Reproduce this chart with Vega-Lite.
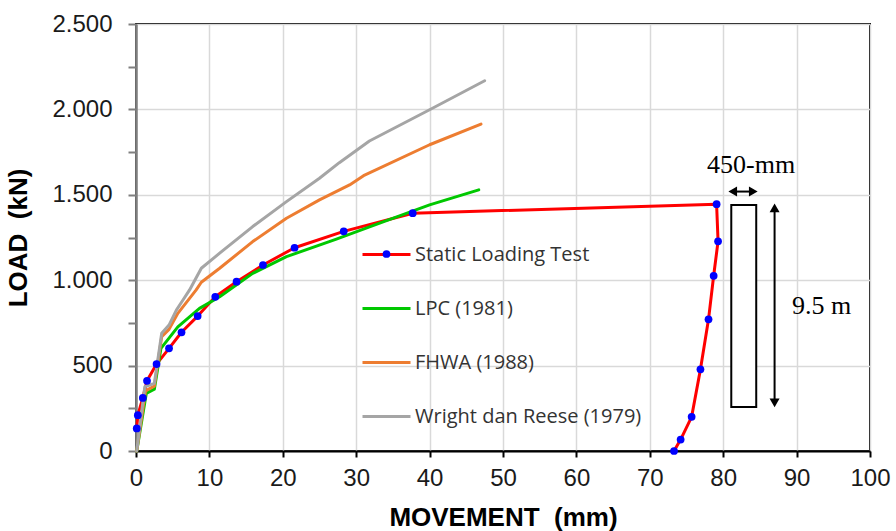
{
  "$schema": "https://vega.github.io/schema/vega-lite/v6.json",
  "width": 734,
  "height": 427,
  "autosize": {"type": "none"},
  "padding": {"left": 136, "top": 24, "right": 26, "bottom": 80},
  "background": "white",
  "config": {
    "view": {"stroke": "#000000", "strokeWidth": 2},
    "font": "Liberation Sans"
  },
  "datasets": {
    "curves": [
      {"series": "Static Loading Test", "movement": 0.1, "load": 132},
      {"series": "Static Loading Test", "movement": 0.25, "load": 210},
      {"series": "Static Loading Test", "movement": 0.93, "load": 311},
      {"series": "Static Loading Test", "movement": 1.5, "load": 411},
      {"series": "Static Loading Test", "movement": 2.8, "load": 509},
      {"series": "Static Loading Test", "movement": 4.5, "load": 601},
      {"series": "Static Loading Test", "movement": 6.2, "load": 695},
      {"series": "Static Loading Test", "movement": 8.4, "load": 790},
      {"series": "Static Loading Test", "movement": 10.8, "load": 903},
      {"series": "Static Loading Test", "movement": 13.7, "load": 991},
      {"series": "Static Loading Test", "movement": 17.3, "load": 1089},
      {"series": "Static Loading Test", "movement": 21.6, "load": 1190},
      {"series": "Static Loading Test", "movement": 28.3, "load": 1286},
      {"series": "Static Loading Test", "movement": 37.7, "load": 1392},
      {"series": "Static Loading Test", "movement": 79.1, "load": 1445},
      {"series": "Static Loading Test", "movement": 79.3, "load": 1228},
      {"series": "Static Loading Test", "movement": 78.7, "load": 1026},
      {"series": "Static Loading Test", "movement": 78.0, "load": 771},
      {"series": "Static Loading Test", "movement": 76.9, "load": 478},
      {"series": "Static Loading Test", "movement": 75.7, "load": 200},
      {"series": "Static Loading Test", "movement": 74.2, "load": 67},
      {"series": "Static Loading Test", "movement": 73.3, "load": 0},
      {"series": "LPC (1981)", "movement": 0.1, "load": 0},
      {"series": "LPC (1981)", "movement": 1.4, "load": 337},
      {"series": "LPC (1981)", "movement": 2.5, "load": 362},
      {"series": "LPC (1981)", "movement": 3.4, "load": 601},
      {"series": "LPC (1981)", "movement": 5.7, "load": 727},
      {"series": "LPC (1981)", "movement": 8.65, "load": 835},
      {"series": "LPC (1981)", "movement": 11.4, "load": 903},
      {"series": "LPC (1981)", "movement": 15.9, "load": 1040},
      {"series": "LPC (1981)", "movement": 20.5, "load": 1138},
      {"series": "LPC (1981)", "movement": 27.3, "load": 1240},
      {"series": "LPC (1981)", "movement": 33.2, "load": 1334},
      {"series": "LPC (1981)", "movement": 40.0, "load": 1441},
      {"series": "LPC (1981)", "movement": 46.7, "load": 1529},
      {"series": "FHWA (1988)", "movement": 0.1, "load": 0},
      {"series": "FHWA (1988)", "movement": 1.3, "load": 352},
      {"series": "FHWA (1988)", "movement": 2.5, "load": 380},
      {"series": "FHWA (1988)", "movement": 3.5, "load": 669},
      {"series": "FHWA (1988)", "movement": 4.5, "load": 712},
      {"series": "FHWA (1988)", "movement": 5.7, "load": 806},
      {"series": "FHWA (1988)", "movement": 8.2, "load": 943},
      {"series": "FHWA (1988)", "movement": 8.9, "load": 988},
      {"series": "FHWA (1988)", "movement": 11.4, "load": 1070},
      {"series": "FHWA (1988)", "movement": 15.9, "load": 1226},
      {"series": "FHWA (1988)", "movement": 20.5, "load": 1363},
      {"series": "FHWA (1988)", "movement": 25.0, "load": 1470},
      {"series": "FHWA (1988)", "movement": 29.1, "load": 1558},
      {"series": "FHWA (1988)", "movement": 31.0, "load": 1612},
      {"series": "FHWA (1988)", "movement": 40.0, "load": 1793},
      {"series": "FHWA (1988)", "movement": 47.0, "load": 1914},
      {"series": "Wright dan Reese (1979)", "movement": 0.1, "load": 0},
      {"series": "Wright dan Reese (1979)", "movement": 1.2, "load": 376},
      {"series": "Wright dan Reese (1979)", "movement": 2.5, "load": 396},
      {"series": "Wright dan Reese (1979)", "movement": 3.5, "load": 689},
      {"series": "Wright dan Reese (1979)", "movement": 4.5, "load": 737},
      {"series": "Wright dan Reese (1979)", "movement": 5.5, "load": 825},
      {"series": "Wright dan Reese (1979)", "movement": 6.4, "load": 884},
      {"series": "Wright dan Reese (1979)", "movement": 7.3, "load": 943},
      {"series": "Wright dan Reese (1979)", "movement": 8.9, "load": 1070},
      {"series": "Wright dan Reese (1979)", "movement": 11.4, "load": 1158},
      {"series": "Wright dan Reese (1979)", "movement": 15.9, "load": 1314},
      {"series": "Wright dan Reese (1979)", "movement": 20.5, "load": 1460},
      {"series": "Wright dan Reese (1979)", "movement": 25.0, "load": 1597},
      {"series": "Wright dan Reese (1979)", "movement": 27.7, "load": 1688},
      {"series": "Wright dan Reese (1979)", "movement": 31.8, "load": 1815},
      {"series": "Wright dan Reese (1979)", "movement": 40.0, "load": 1998},
      {"series": "Wright dan Reese (1979)", "movement": 47.5, "load": 2168}
    ],
    "pile": [
      {"left": 81.1, "right": 84.5, "bottom": 258, "top": 1441}
    ],
    "arrowShafts": [
      {"x1": 87.0, "x2": 87.0, "y1": 282, "y2": 1423},
      {"x1": 81.3, "x2": 84.1, "y1": 1519, "y2": 1519}
    ],
    "arrowHeads": [
      {"end": "up", "movement": 87.0, "load": 1423},
      {"end": "down", "movement": 87.0, "load": 282},
      {"end": "left", "movement": 81.3, "load": 1519},
      {"end": "right", "movement": 84.1, "load": 1519}
    ],
    "labels": [
      {"text": "450-mm", "movement": 83.8, "load": 1675},
      {"text": "9.5 m", "movement": 93.4, "load": 850}
    ]
  },
  "layer": [
    {
      "data": {"name": "curves"},
      "transform": [{"window": [{"op": "row_number", "as": "idx"}]}],
      "mark": {"type": "line", "strokeJoin": "round", "strokeCap": "round"},
      "encoding": {
        "x": {
          "field": "movement", "type": "quantitative",
          "scale": {"domain": [0, 100], "nice": false, "zero": false},
          "axis": {
            "values": [0,5,10,15,20,25,30,35,40,45,50,55,60,65,70,75,80,85,90,95,100],
            "labelExpr": "datum.value % 10 == 0 ? datum.label : ''",
            "gridOpacity": {"condition": {"test": "datum.value % 10 != 0", "value": 0}, "value": 1},
            "gridColor": "#d9d9d9", "gridWidth": 1.5,
            "domainColor": "#000000", "domainWidth": 2,
            "tickColor": "#000000", "tickWidth": 2, "tickSize": 6,
            "labelFont": "Liberation Sans", "labelFontSize": 24, "labelColor": "#1a1a1a",
            "labelPadding": 9, "labelFlush": false,
            "title": "MOVEMENT\u00a0 (mm)",
            "titleFont": "Liberation Sans", "titleFontSize": 26, "titleFontWeight": "bold",
            "titleColor": "#000000", "titlePadding": 14
          }
        },
        "y": {
          "field": "load", "type": "quantitative",
          "scale": {"domain": [0, 2500], "nice": false},
          "axis": {
            "values": [0,250,500,750,1000,1250,1500,1750,2000,2250,2500],
            "labelExpr": "datum.value % 500 == 0 ? replace(format(datum.value, ','), ',', '.') : ''",
            "gridOpacity": {"condition": {"test": "datum.value % 500 != 0", "value": 0}, "value": 1},
            "gridColor": "#d9d9d9", "gridWidth": 1.5,
            "domainColor": "#7f7f7f", "domainWidth": 2.5,
            "tickColor": "#7f7f7f", "tickWidth": 2, "tickSize": 8,
            "labelFont": "Liberation Sans", "labelFontSize": 24, "labelColor": "#1a1a1a",
            "labelPadding": 16, "labelFlush": false,
            "title": "LOAD\u00a0 (kN)",
            "titleFont": "Liberation Sans", "titleFontSize": 26, "titleFontWeight": "bold",
            "titleColor": "#000000", "titlePadding": 20
          }
        },
        "color": {
          "field": "series", "type": "nominal",
          "scale": {
            "domain": ["Static Loading Test", "LPC (1981)", "FHWA (1988)", "Wright dan Reese (1979)"],
            "range": ["#ff0000", "#00c800", "#ed7d31", "#a5a5a5"]
          },
          "legend": {
            "orient": "none", "legendX": 225, "legendY": 205,
            "title": null, "padding": 0,
            "symbolType": "stroke", "symbolSize": 2304, "symbolStrokeWidth": 3,
            "labelFont": "Open Sans", "labelFontSize": 20, "labelColor": "#333333",
            "labelOffset": 3, "rowPadding": 18, "labelLimit": 400
          }
        },
        "strokeWidth": {
          "field": "series", "type": "nominal",
          "scale": {
            "domain": ["Static Loading Test", "LPC (1981)", "FHWA (1988)", "Wright dan Reese (1979)"],
            "range": [3, 3, 2.6, 2.6]
          },
          "legend": null
        },
        "order": {"field": "idx", "type": "quantitative"}
      }
    },
    {
      "data": {"name": "curves"},
      "transform": [{"filter": "datum.series == 'Static Loading Test'"}],
      "mark": {"type": "point", "filled": true, "size": 60, "opacity": 1, "color": "#0000ff"},
      "encoding": {
        "x": {"field": "movement", "type": "quantitative"},
        "y": {"field": "load", "type": "quantitative"},
        "shape": {
          "field": "series", "type": "nominal",
          "scale": {"domain": ["Static Loading Test"], "range": ["circle"]},
          "legend": {
            "orient": "none", "legendX": 241.5, "legendY": 221,
            "title": null, "padding": 0,
            "symbolSize": 60, "symbolFillColor": "#0000ff", "symbolStrokeColor": "#0000ff", "symbolStrokeWidth": 0,
            "labelExpr": "''", "labelFontSize": 18
          }
        }
      }
    },
    {
      "data": {"name": "pile"},
      "mark": {"type": "rect", "fill": "#ffffff", "stroke": "#000000", "strokeWidth": 2},
      "encoding": {
        "x": {"field": "left", "type": "quantitative"},
        "x2": {"field": "right"},
        "y": {"field": "bottom", "type": "quantitative"},
        "y2": {"field": "top"}
      }
    },
    {
      "data": {"name": "arrowShafts"},
      "mark": {"type": "rule", "color": "#000000", "strokeWidth": 2},
      "encoding": {
        "x": {"field": "x1", "type": "quantitative"},
        "x2": {"field": "x2"},
        "y": {"field": "y1", "type": "quantitative"},
        "y2": {"field": "y2"}
      }
    },
    {
      "data": {"name": "arrowHeads"},
      "mark": {"type": "point", "filled": true, "color": "#000000", "opacity": 1, "size": 100},
      "encoding": {
        "x": {"field": "movement", "type": "quantitative"},
        "y": {"field": "load", "type": "quantitative"},
        "shape": {
          "field": "end", "type": "nominal",
          "scale": {"domain": ["up", "down", "left", "right"], "range": ["triangle-up", "triangle-down", "triangle-left", "triangle-right"]},
          "legend": null
        }
      }
    },
    {
      "data": {"name": "labels"},
      "mark": {"type": "text", "font": "Liberation Serif", "fontSize": 26, "color": "#000000", "align": "center", "baseline": "middle"},
      "encoding": {
        "x": {"field": "movement", "type": "quantitative"},
        "y": {"field": "load", "type": "quantitative"},
        "text": {"field": "text"}
      }
    }
  ],
  "resolve": {"scale": {"shape": "independent"}}
}
